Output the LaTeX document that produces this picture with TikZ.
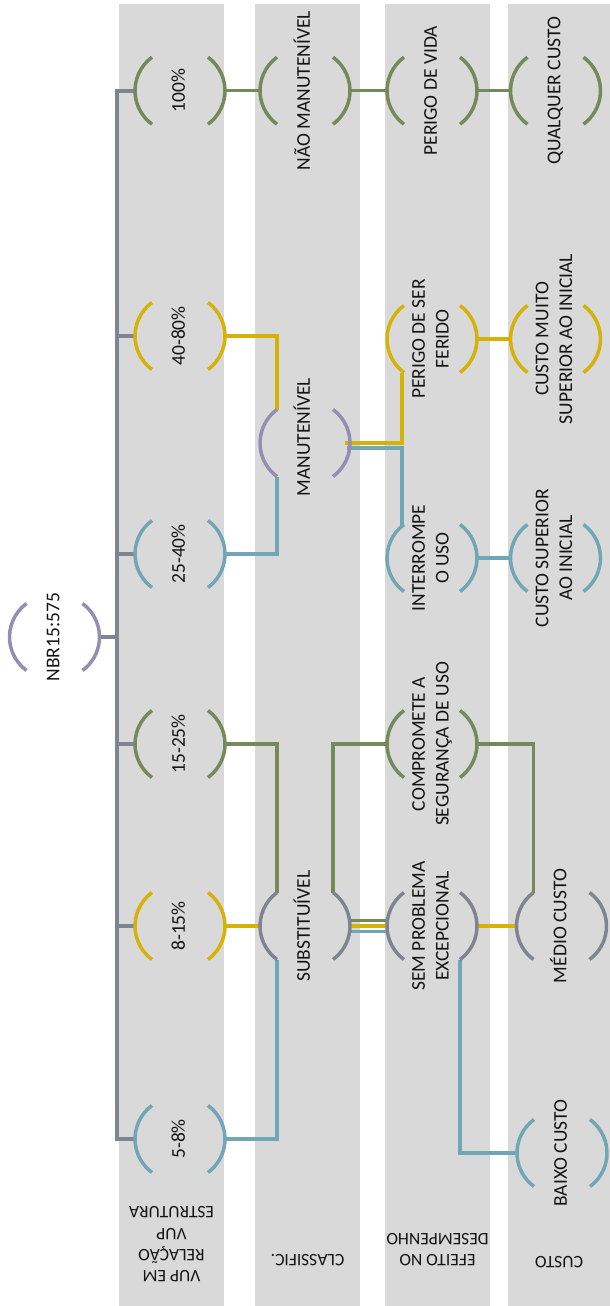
\documentclass[tikz,border=0pt]{standalone}
\usepackage{fontspec}
\setmainfont{Carlito}
\usepackage{graphicx}
\usetikzlibrary{calc}

\definecolor{grn}{HTML}{76895A}
\definecolor{ylw}{HTML}{D4B208}
\definecolor{blu}{HTML}{70A6B6}
\definecolor{lav}{HTML}{948EB4}
\definecolor{gry}{HTML}{7F8590}
\definecolor{bandgray}{HTML}{D9D9D9}
\definecolor{ink}{HTML}{141414}

% text turned to read bottom-to-top, and text turned upside down
\newcommand{\rotup}[1]{\rotatebox{90}{\begin{tabular}{@{}c@{}}#1\end{tabular}}}
\newcommand{\rotdown}[1]{\rotatebox{180}{\begin{tabular}{@{}c@{}}#1\end{tabular}}}

\tikzset{
  bx/.style={rectangle, minimum width=90pt, minimum height=67pt, inner sep=0pt, outer sep=0pt},
  txt/.style={inner sep=0pt, text=ink, font=\fontsize{19.5}{23.8}\selectfont},
  head/.style={inner sep=0pt, text=ink, font=\fontsize{17.5}{21.3}\selectfont},
  brk/.style={line width=3.5pt},
  link/.style={line width=3.2pt},
  trunk/.style={line width=4pt, gry},
  band/.style={fill=bandgray},
}

\begin{document}
\begin{tikzpicture}[x=1pt, y=-1pt]
\useasboundingbox (0,0) rectangle (610,1306);

% column bands
\fill[band] (119,4.5) rectangle (224,1306);
\fill[band] (255,4.5) rectangle (360,1306);
\fill[band] (385,4.5) rectangle (490,1306);
\fill[band] (508,4.5) rectangle (610,1306);

% bracket nodes
\node[bx] (r)  at (54.5,637) {};
\node[bx] (a1) at (180,90.7) {};
\node[bx] (a2) at (180,336) {};
\node[bx] (a3) at (180,554) {};
\node[bx] (a4) at (180,744) {};
\node[bx] (a5) at (180,926) {};
\node[bx] (a6) at (180,1139) {};
\node[bx] (b1) at (305,90.7) {};
\node[bx] (b2) at (305,443) {};
\node[bx] (b3) at (305,926) {};
\node[bx] (c1) at (432,90.7) {};
\node[bx] (c2) at (432,339) {};
\node[bx] (c3) at (432,558) {};
\node[bx] (c4) at (432,744) {};
\node[bx] (c5) at (432,926) {};
\node[bx] (d1) at (555.5,90.7) {};
\node[bx] (d2) at (555.5,339) {};
\node[bx] (d3) at (555.5,558) {};
\node[bx] (d4) at (561.5,926) {};
\node[bx] (d5) at (562,1153) {};

% trunk from the root to the first column
\coordinate (tk) at (117,637);
\draw[trunk] (r.east) -- (tk);
\draw[trunk] (a1.west) -| (tk);
\draw[trunk] (a6.west) -| (tk);
\foreach \n in {a2,a3,a4,a5}
  \draw[trunk] (\n.west) -- (tk |- \n.west);

% first row
\draw[link,grn] (a1.east) -- (b1.west);
\draw[link,grn] (b1.east) -- (c1.west);
\draw[link,grn] (c1.east) -- (d1.west);

% maintainable branch
\draw[link,ylw] (a2.east) -| ($(b2.north west)+(17,0)$);
\draw[link,blu] (a3.east) -| ($(b2.south west)+(17,0)$);
\draw[link,blu] ($(b2.east)+(-3,5)$) -| ($(c3.north west)+(15,0)$);
\draw[link,ylw] ($(b2.east)+(-5,0)$) -| ($(c2.south west)+(15,0)$);
\draw[link,ylw] (c2.east) -- (d2.west);
\draw[link,blu] (c3.east) -- (d3.west);

% replaceable branch
\draw[link,grn] (a4.east) -| ($(b3.north west)+(17,0)$);
\draw[link,ylw] (a5.east) -- (b3.west);
\draw[link,blu] (a6.east) -| ($(b3.south west)+(17,0)$);
\draw[link,grn] ($(b3.north east)+(-17,0)$) |- (c4.west);
\draw[link,grn] ($(b3.east)+(0,-5.5)$) -- ($(c5.west)+(0,-5.5)$);
\draw[link,ylw] (b3.east) -- (c5.west);
\draw[link,blu] ($(b3.east)+(0,5.5)$) -- ($(c5.west)+(0,5.5)$);
\draw[link,grn] (c4.east) -| ($(d4.north west)+(17,0)$);
\draw[link,ylw] (c5.east) -- (d4.west);
\draw[link,blu] ($(c5.south east)+(-17,0)$) |- (d5.west);

% round brackets around every node
\foreach \n/\c in {r/lav, a1/grn, a2/ylw, a3/blu, a4/grn, a5/ylw, a6/blu,
                   b1/grn, b2/lav, b3/gry,
                   c1/grn, c2/ylw, c3/blu, c4/grn, c5/gry,
                   d1/grn, d2/ylw, d3/blu, d4/gry, d5/blu}{
  \draw[brk,\c] ($(\n.north west)+(17,0)$) arc[start angle=233.8, end angle=126.2, radius=41.5];
  \draw[brk,\c] ($(\n.north east)+(-17,0)$) arc[start angle=-53.8, end angle=53.8, radius=41.5];
}

% node texts
\node[txt] (r-t)  at (r)  {\rotup{NBR15:575}};
\node[txt] (a1-t) at (a1) {\rotup{100\%}};
\node[txt] (a2-t) at (a2) {\rotup{40-80\%}};
\node[txt] (a3-t) at (a3) {\rotup{25-40\%}};
\node[txt] (a4-t) at (a4) {\rotup{15-25\%}};
\node[txt] (a5-t) at (a5) {\rotup{8-15\%}};
\node[txt] (a6-t) at (a6) {\rotup{5-8\%}};
\node[txt] (b1-t) at (b1) {\rotup{NÃO MANUTENÍVEL}};
\node[txt] (b2-t) at ($(b2)+(0,-6)$) {\rotup{MANUTENÍVEL}};
\node[txt] (b3-t) at (b3) {\rotup{SUBSTITUÍVEL}};
\node[txt] (c1-t) at (c1) {\rotup{PERIGO DE VIDA}};
\node[txt] (c2-t) at (c2) {\rotup{PERIGO DE SER\\FERIDO}};
\node[txt] (c3-t) at (c3) {\rotup{INTERROMPE\\O USO}};
\node[txt] (c4-t) at (c4) {\rotup{COMPROMETE A\\SEGURANÇA DE USO}};
\node[txt] (c5-t) at (c5) {\rotup{SEM PROBLEMA\\EXCEPCIONAL}};
\node[txt] (d1-t) at (d1) {\rotup{QUALQUER CUSTO}};
\node[txt] (d2-t) at (d2) {\rotup{CUSTO MUITO\\SUPERIOR AO INICIAL}};
\node[txt] (d3-t) at (d3) {\rotup{CUSTO SUPERIOR\\AO INICIAL}};
\node[txt] (d4-t) at (d4) {\rotup{MÉDIO CUSTO}};
\node[txt] (d5-t) at (d5) {\rotup{BAIXO CUSTO}};

% column headings at the foot of the bands
\node[head] (h1) at (171.5,1243) {\rotdown{VUP EM\\RELAÇÃO\\VUP\\ESTRUTURA}};
\node[head] (h2) at (307.5,1259) {\rotdown{CLASSIFIC.}};
\node[head] (h3) at (437.5,1248) {\rotdown{EFEITO NO\\DESEMPENHO}};
\node[head] (h4) at (559,1261) {\rotdown{CUSTO}};
\end{tikzpicture}
\end{document}
